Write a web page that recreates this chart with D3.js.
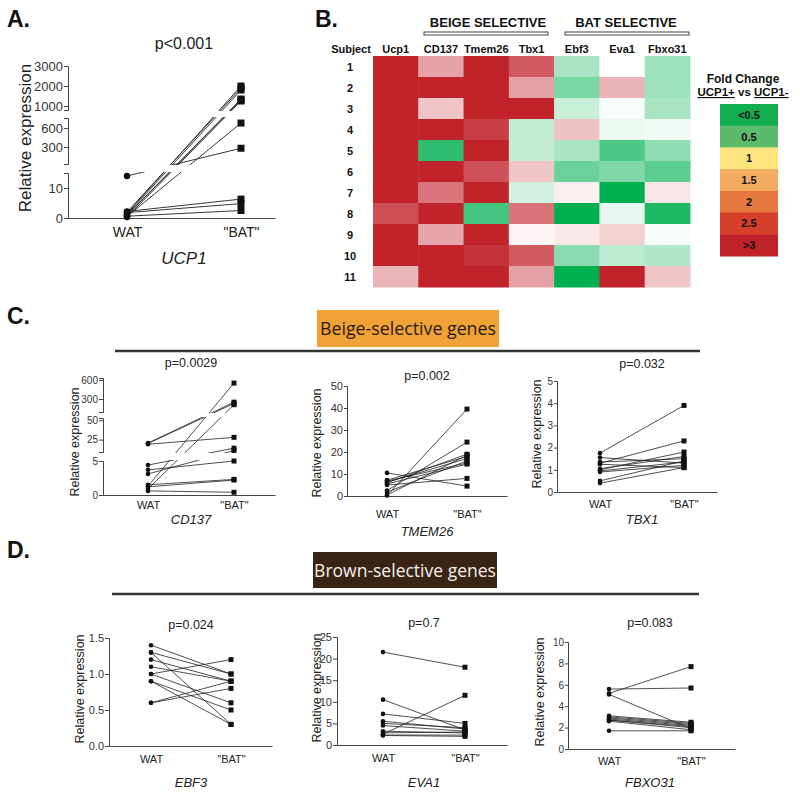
<!DOCTYPE html>
<html><head><meta charset="utf-8">
<script src="https://cdn.jsdelivr.net/npm/d3@7/dist/d3.min.js"></script>
<style>
body{margin:0;background:#fff}
svg{display:block}
text{font-family:"Liberation Sans",Arial,sans-serif}
</style>
</head><body>
<svg id="c" width="800" height="792"></svg>
<script>
// ---------------- DATA ----------------
const groupLabels = ["WAT", "\"BAT\""];

const ucp1WAT = [1.5, 2.0, 1.2, 0.8, 1.0, 0.5, 14, 2.2, 1.8, 0.6, 0.3];
const ucp1BAT = [2000, 1900, 1800, 1350, 1300, 680, 280, 6.3, 4.8, 2.5, 1250];

const cd137WAT = [20.5, 20, 19, 4.4, 3.7, 3.1, 1.5, 1.3, 1.2, 0.9, 0.6];
const cd137BAT = [250, 230, 28, 14, 5, 11, 2.3, 550, 2.2, 210, 0.4];

const tmem26WAT = [10.5, 7.2, 6.8, 6.3, 6, 5.5, 5, 2.5, 1.8, 0.5, 0.2];
const tmem26BAT = [4.5, 18, 15, 17, 19, 14.5, 8, 24.5, 16, 18.5, 39.5];

const tbx1WAT = [1.75, 1.55, 1.35, 1.3, 1.25, 1.05, 1.0, 0.95, 0.9, 0.5, 0.4];
const tbx1BAT = [3.9, 1.3, 1.5, 2.3, 1.1, 1.6, 1.8, 1.35, 1.2, 1.4, 1.1];

const ebf3WAT = [1.4, 1.3, 1.3, 1.2, 1.1, 1.0, 1.0, 0.9, 0.9, 0.6, 0.6];
const ebf3BAT = [1.0, 0.3, 1.0, 0.9, 0.9, 1.2, 0.6, 0.5, 0.3, 0.8, 0.9];

const eva1WAT = [21.5, 10.5, 7.2, 5.5, 5.0, 4.5, 3.2, 2.8, 2.5, 2.3, 2.2];
const eva1BAT = [18, 3.5, 5, 3.7, 4, 3.2, 2.8, 3.0, 11.5, 2.3, 2.0];

const fbxo31WAT = [5.6, 5.2, 5.1, 3.1, 3.0, 2.9, 2.8, 2.7, 2.7, 2.6, 1.7];
const fbxo31BAT = [5.7, 7.7, 1.9, 2.5, 2.4, 2.3, 2.2, 2.0, 2.1, 1.8, 1.7];

const pValues = ["p<0.001", "p=0.0029", "p=0.002", "p=0.032", "p=0.024", "p=0.7", "p=0.083"];

const heatSubjects = [1, 2, 3, 4, 5, 6, 7, 8, 9, 10, 11];
const heatGenes = ["Ucp1", "CD137", "Tmem26", "Tbx1", "Ebf3", "Eva1", "Fbxo31"];
const heatValues = [
  [5, 1.85, 4, 2.5, 0.83, 1.0, 0.81],
  [6, 3.5, 4, 1.85, 0.74, 1.7, 0.81],
  [5, 1.53, 3.2, 3.3, 0.89, 0.985, 0.83],
  [5, 3.4, 2.77, 0.88, 1.57, 0.96, 0.97],
  [4.5, 0.59, 3.8, 0.88, 0.83, 0.65, 0.78],
  [4.2, 3.6, 2.57, 1.53, 0.71, 0.75, 0.68],
  [4.8, 2.25, 3.9, 0.91, 1.15, 0.4, 1.24],
  [2.6, 3.7, 0.63, 2.28, 0.35, 0.95, 0.56],
  [5.2, 1.82, 4.1, 1.1, 1.2, 1.42, 0.98],
  [4.6, 3.3, 2.87, 2.5, 0.77, 0.87, 0.85],
  [1.67, 3.5, 4.4, 1.85, 0.3, 3.6, 1.53]
];
const legendLabels = ["<0.5", "0.5", "1", "1.5", "2", "2.5", ">3"];
const legendColors = ["#12ad4f", "#5cba6b", "#fde47f", "#f3ac62", "#e5773f", "#d6402b", "#c1232b"];

// ---------------- DRAW ----------------
const svg = d3.select("#c");
const FONT = '"Liberation Sans", Arial, sans-serif';
let clipId = 0;

function pairedPlot(cfg) {
  const g = svg.append("g");
  const d0 = (cfg.x0 - cfg.xW) / (cfg.xB - cfg.xW), d1 = (cfg.x1 - cfg.xW) / (cfg.xB - cfg.xW);
  const x = d3.scaleLinear().domain([d0, d1]).range([cfg.x0, cfg.x1]);
  const segs = cfg.segs.map(s => Object.assign({}, s, {scale: d3.scaleLinear().domain(s.domain).range(s.range)}));
  function yOf(v) {
    for (const s of segs) if (v >= s.domain[0] && v <= s.domain[1]) return s.scale(v);
    let best = segs[0], bd = Infinity;
    for (const s of segs) { const dd = Math.min(Math.abs(v - s.domain[0]), Math.abs(v - s.domain[1])); if (dd < bd) { bd = dd; best = s; } }
    return best.scale(Math.max(best.domain[0], Math.min(best.domain[1], v)));
  }
  segs.forEach(s => {
    const ax = g.append("g").attr("transform", `translate(${cfg.x0},0)`)
      .call(d3.axisLeft(s.scale).tickValues(s.ticks).tickSize(cfg.tick || 4).tickSizeOuter(cfg.tick || 4).tickPadding(1)
        .tickFormat(cfg.fmt || (d => d)));
    ax.selectAll("path,line").attr("stroke", "#444").attr("stroke-width", 1);
    ax.selectAll("text").attr("font-size", cfg.tickFont || 10).attr("font-family", FONT).attr("fill", "#333");
  });
  const xa = g.append("g").attr("transform", `translate(0,${segs[0].range[0]})`)
    .call(d3.axisBottom(x).tickValues([0, 1]).tickSize(0).tickSizeOuter(0).tickPadding(cfg.xPad || 6)
      .tickFormat((d, i) => groupLabels[i]));
  xa.selectAll("path").attr("stroke", "#444").attr("stroke-width", 1);
  xa.selectAll("text").attr("font-size", cfg.xFont || 11).attr("font-family", FONT).attr("fill", "#222");
  const defs = svg.append("defs");
  const ids = segs.map(s => {
    const id = "clip" + (clipId++);
    defs.append("clipPath").attr("id", id).append("rect")
      .attr("x", cfg.x0 + 1).attr("width", cfg.x1 - cfg.x0)
      .attr("y", s.range[1] - 1).attr("height", s.range[0] - s.range[1] + 2);
    return id;
  });
  const pairs = cfg.wat.map((w, i) => [w, cfg.bat[i]]);
  pairs.forEach(p => {
    ids.forEach(id => {
      g.append("line").attr("x1", x(0)).attr("x2", x(1))
        .attr("y1", yOf(p[0])).attr("y2", yOf(p[1]))
        .attr("stroke", "#222").attr("stroke-width", cfg.lw || 0.8)
        .attr("clip-path", `url(#${id})`);
    });
  });
  const cs = cfg.ms || 2.3, ss = cfg.ss || 5;
  g.selectAll(".w").data(cfg.wat).join("path")
    .attr("d", d3.symbol(d3.symbolCircle, Math.PI * cs * cs))
    .attr("transform", d => `translate(${x(0)},${yOf(d)})`).attr("fill", "#111");
  g.selectAll(".b").data(cfg.bat).join("path")
    .attr("d", d3.symbol(d3.symbolSquare, ss * ss))
    .attr("transform", d => `translate(${x(1)},${yOf(d)})`).attr("fill", "#111");
  g.append("text").attr("x", (x(0) + x(1)) / 2 + (cfg.pdx || 0)).attr("y", cfg.pY).attr("text-anchor", "middle")
    .attr("font-size", cfg.pFont || 12.5).attr("fill", "#222").text(cfg.p);
  g.append("text").attr("x", (x(0) + x(1)) / 2 + (cfg.gdx || 0)).attr("y", cfg.geneY).attr("text-anchor", "middle")
    .attr("font-size", cfg.geneFont || 13).attr("font-style", "italic").attr("fill", "#222").text(cfg.gene);
  g.append("text").attr("transform", `translate(${cfg.ylX},${cfg.ylY}) rotate(-90)`).attr("dy", "0.35em")
    .attr("text-anchor", "middle").attr("font-size", cfg.ylFont || 12.5).attr("fill", "#222").text("Relative expression");
}

// Panel A
pairedPlot({x0: 68, x1: 275, xW: 127, xB: 241, wat: ucp1WAT, bat: ucp1BAT,
  segs: [{domain: [0, 15], range: [218, 173], ticks: [0, 10]},
         {domain: [30, 760], range: [164, 118], ticks: [300, 600]},
         {domain: [800, 3000], range: [110, 66], ticks: [1000, 2000, 3000]}],
  tickFont: 13, xFont: 14, xPad: 9, p: pValues[0], pY: 49, pFont: 16, gene: "UCP1", geneY: 264, geneFont: 17,
  ylX: 25, ylY: 138, ylFont: 17, ms: 3.2, ss: 7, lw: 0.9});

// Panel C
pairedPlot({x0: 103, x1: 275, xW: 148, xB: 234, wat: cd137WAT, bat: cd137BAT,
  segs: [{domain: [0, 5], range: [495, 461], ticks: [0, 5]},
         {domain: [9, 53], range: [452, 418], ticks: [25, 50]},
         {domain: [95, 630], range: [412, 378], ticks: [300, 600]}],
  p: pValues[1], pY: 367, gene: "CD137", geneY: 524, ylX: 75, ylY: 442});
pairedPlot({x0: 347, x1: 507, xW: 387, xB: 467, wat: tmem26WAT, bat: tmem26BAT,
  segs: [{domain: [0, 50], range: [496, 386], ticks: [0, 10, 20, 30, 40, 50]}], tick: 3, tickFont: 11,
  xPad: 14, p: pValues[2], pY: 380, gene: "TMEM26", geneY: 536, ylX: 317, ylY: 443});
pairedPlot({x0: 557, x1: 717, xW: 600, xB: 684, wat: tbx1WAT, bat: tbx1BAT,
  segs: [{domain: [0, 5], range: [492, 381], ticks: [0, 1, 2, 3, 4, 5]}], tick: 3,
  xPad: 8, p: pValues[3], pY: 368, gene: "TBX1", geneY: 524, ylX: 537, ylY: 434});

// Panel D
pairedPlot({x0: 109, x1: 272, xW: 151, xB: 231, wat: ebf3WAT, bat: ebf3BAT,
  segs: [{domain: [0, 1.5], range: [746, 638], ticks: [0, 0.5, 1, 1.5]}], fmt: d3.format(".1f"), tickFont: 11,
  xPad: 9, p: pValues[4], pY: 629, gene: "EBF3", geneY: 787, ylX: 80, ylY: 689});
pairedPlot({x0: 337, x1: 507, xW: 383, xB: 465, wat: eva1WAT, bat: eva1BAT,
  segs: [{domain: [0, 25], range: [745, 637], ticks: [0, 5, 10, 15, 20, 25]}], tickFont: 11,
  xPad: 9, p: pValues[5], pY: 627, gene: "EVA1", geneY: 787, ylX: 317, ylY: 688});
pairedPlot({x0: 568, x1: 735, xW: 609, xB: 691, wat: fbxo31WAT, bat: fbxo31BAT,
  segs: [{domain: [0, 10], range: [749, 642], ticks: [0, 2, 4, 6, 8, 10]}], tick: 3,
  xPad: 8, p: pValues[6], pY: 627, gene: "FBXO31", geneY: 787, ylX: 540, ylY: 692});

// Panel letters
[["A.", 7, 27], ["B.", 315, 27], ["C.", 7, 324], ["D.", 7, 558]].forEach(d => {
  svg.append("text").attr("x", d[1]).attr("y", d[2]).attr("font-size", 23).attr("font-weight", "bold")
    .attr("fill", "#111").text(d[0]);
});

function fitText(t, w) {
  let fs = 20; t.attr("font-size", fs);
  const L = t.node().getComputedTextLength();
  t.attr("font-size", fs * w / L);
}
svg.append("rect").attr("x", 317).attr("y", 310).attr("width", 182).attr("height", 37).attr("fill", "#f1a236");
fitText(svg.append("text").attr("x", 408).attr("y", 335).attr("text-anchor", "middle").attr("fill", "#2a1a0c")
  .style("font-family", '"Open Sans", sans-serif').text("Beige-selective genes"), 176);
svg.append("line").attr("x1", 115).attr("x2", 700).attr("y1", 351).attr("y2", 351).attr("stroke", "#333").attr("stroke-width", 2.5);

svg.append("rect").attr("x", 313).attr("y", 552).attr("width", 184).attr("height", 36).attr("fill", "#3b2414");
fitText(svg.append("text").attr("x", 405).attr("y", 577).attr("text-anchor", "middle").attr("fill", "#f4f0ea")
  .style("font-family", '"Open Sans", sans-serif').text("Brown-selective genes"), 182);
svg.append("line").attr("x1", 112).attr("x2", 699).attr("y1", 594).attr("y2", 594).attr("stroke", "#333").attr("stroke-width", 2.5);

// ---------------- HEATMAP (B) ----------------
const hx = d3.scaleBand().domain(heatGenes).range([373, 690]);
const hy = d3.scaleBand().domain(heatSubjects).range([56, 287]);
const RED = "#c1232b", GREEN = "#00b050";
function heatColor(v) {
  if (v >= 1) return d3.interpolateRgb("#ffffff", RED)(Math.min(1, (v - 1) / 2));
  return d3.interpolateRgb("#ffffff", GREEN)(Math.min(1, (1 - v) / 0.5));
}
const hg = svg.append("g");
heatValues.forEach((row, i) => {
  hg.selectAll(null).data(row).join("rect")
    .attr("x", (d, j) => hx(heatGenes[j])).attr("y", hy(heatSubjects[i]))
    .attr("width", hx.bandwidth() + 0.5).attr("height", hy.bandwidth() + 0.5)
    .attr("fill", d => heatColor(d));
});
hg.selectAll(".gh").data(heatGenes).join("text")
  .attr("x", d => hx(d) + hx.bandwidth() / 2).attr("y", 53).attr("text-anchor", "middle")
  .attr("font-size", 11).attr("font-weight", "bold").attr("fill", "#111").text(d => d);
hg.append("text").attr("x", 351).attr("y", 53).attr("text-anchor", "middle")
  .attr("font-size", 11).attr("font-weight", "bold").attr("fill", "#111").text("Subject");
hg.selectAll(".sn").data(heatSubjects).join("text")
  .attr("x", 350).attr("y", d => hy(d) + hy.bandwidth() / 2 + 4).attr("text-anchor", "middle")
  .attr("font-size", 11).attr("font-weight", "bold").attr("fill", "#111").text(d => d);
[["BEIGE SELECTIVE", 488, 424, 548], ["BAT SELECTIVE", 626, 565, 689]].forEach(d => {
  hg.append("text").attr("x", d[1]).attr("y", 27).attr("text-anchor", "middle")
    .attr("font-size", 13).attr("font-weight", "bold").attr("fill", "#111").text(d[0]);
  hg.append("rect").attr("x", d[2]).attr("y", 32).attr("width", d[3] - d[2]).attr("height", 3)
    .attr("fill", "#fff").attr("stroke", "#444").attr("stroke-width", 1);
});
const lg = svg.append("g");
lg.append("text").attr("x", 743).attr("y", 83).attr("text-anchor", "middle")
  .attr("font-size", 12).attr("font-weight", "bold").attr("fill", "#111").text("Fold Change");
const sub = lg.append("text").attr("x", 743).attr("y", 96).attr("text-anchor", "middle")
  .attr("font-size", 11.5).attr("font-weight", "bold").attr("fill", "#111");
sub.append("tspan").attr("text-decoration", "underline").text("UCP1+");
sub.append("tspan").text(" vs ");
sub.append("tspan").attr("text-decoration", "underline").text("UCP1-");
const ly = d3.scaleBand().domain(legendLabels).range([104, 256]);
lg.selectAll(".lr").data(legendLabels).join("rect")
  .attr("x", 720).attr("width", 58).attr("y", d => ly(d)).attr("height", ly.bandwidth() + 0.5)
  .attr("fill", (d, i) => legendColors[i]);
lg.selectAll(".lt").data(legendLabels).join("text")
  .attr("x", 749).attr("y", d => ly(d) + ly.bandwidth() / 2 + 4).attr("text-anchor", "middle")
  .attr("font-size", 11).attr("font-weight", "bold").attr("fill", "#111").text(d => d);
</script>
</body></html>
